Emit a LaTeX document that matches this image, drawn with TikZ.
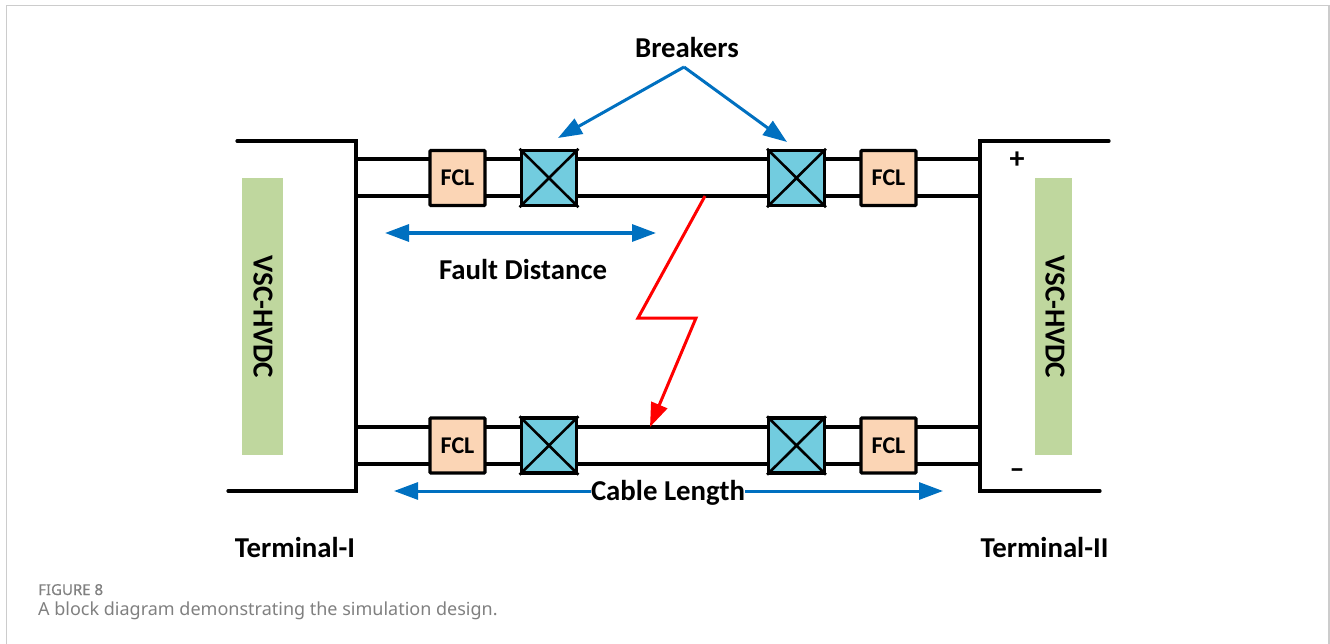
\documentclass[tikz,border=0pt]{standalone}
\usepackage{fontspec}
\setmainfont{Carlito}
\newfontfamily\capfont{Noto Sans}
\newfontfamily\capboldfont[FakeBold=0.5]{Noto Sans}
\usetikzlibrary{arrows.meta}
\definecolor{bluearrow}{HTML}{0070C0}
\definecolor{fclfill}{HTML}{FBD5B5}
\definecolor{brkfill}{HTML}{72CCDF}
\definecolor{vscfill}{HTML}{BFD79E}
\definecolor{framegrey}{HTML}{CCCCCC}
\definecolor{capgrey}{HTML}{808080}
\tikzset{
  x=1pt,y=-1pt,
  wire/.style={draw=black,line width=3.2pt},
  bus/.style={draw=black,line width=3.2pt,line join=miter,line cap=round},
  fcl/.style={draw=black,line width=3.2pt,fill=fclfill,minimum width=55pt,minimum height=55pt,inner sep=0pt,font=\bfseries\fontsize{24}{26}\selectfont,rounded corners=0.8pt},
  brk/.style={draw=black,line width=3.4pt,fill=brkfill,minimum width=55.5pt,minimum height=55pt,inner sep=0pt},
  vsc/.style={fill=vscfill,inner sep=0pt},
  lbl/.style={font=\bfseries\fontsize{28.8}{30}\selectfont,inner sep=0pt},
  vlabel/.style={font=\bfseries\fontsize{29}{30}\selectfont,inner sep=0pt,rotate=-90},
  bluearr/.style={draw=bluearrow,line width=3pt,-{Triangle[length=24pt,width=17pt]}},
  bluearrt/.style={draw=bluearrow,line width=3.2pt,{Triangle[length=24pt,width=17pt]}-{Triangle[length=24pt,width=17pt]}},
  redarr/.style={draw=red,line width=3pt,line join=miter,-{Triangle[length=24pt,width=17pt]}},
  captxt/.style={text=capgrey,inner sep=0pt,anchor=base west}
}
\begin{document}
\begin{tikzpicture}
\useasboundingbox (0,0) rectangle (1330,644);
% panel frame
\draw[framegrey,line width=1.2pt] (6.3,644) -- (6.3,5.5) -- (1329,5.5) -- (1329,644);
% green blocks
\node[vsc,minimum width=41pt,minimum height=277pt] (vscL) at (262.5,316.5) {};
\node[vsc,minimum width=37pt,minimum height=277pt] (vscR) at (1053.5,316.5) {};
\node[vlabel] (vscLt) at (263,317) {VSC-HVDC};
\node[vlabel] (vscRt) at (1055,317) {VSC-HVDC};
% terminals
\coordinate (lt0) at (237,141); \coordinate (lt1) at (356,141);
\coordinate (lb1) at (356,491); \coordinate (lb0) at (228,491);
\coordinate (rt0) at (1109,141); \coordinate (rt1) at (980,141);
\coordinate (rb1) at (980,491); \coordinate (rb0) at (1100,491);
\draw[bus] (lt0) -- (lt1) -- (lb1) -- (lb0);
\draw[bus] (rt0) -- (rt1) -- (rb1) -- (rb0);
% junction points on the terminals
\coordinate (L1) at (356,159); \coordinate (L2) at (356,196);
\coordinate (L3) at (356,427); \coordinate (L4) at (356,464);
\coordinate (R1) at (980,159); \coordinate (R2) at (980,196);
\coordinate (R3) at (980,427); \coordinate (R4) at (980,464);
% wires first
\draw[wire] (L1) -- (R1); \draw[wire] (L2) -- (R2);
\draw[wire] (L3) -- (R3); \draw[wire] (L4) -- (R4);
% devices
\node[fcl] (f1) at (457.5,178) {FCL};
\node[fcl] (f2) at (888.5,178) {FCL};
\node[fcl] (f3) at (457.5,445.5) {FCL};
\node[fcl] (f4) at (888.5,445.5) {FCL};
\foreach \n/\x/\y in {b1/549/178,b2/796.5/178,b3/549/445.5,b4/796.5/445.5}{
  \node[brk] (\n) at (\x,\y) {};
  \draw[black,line width=2.6pt] (\n.north west) -- (\n.south east) (\n.north east) -- (\n.south west);
}
% breakers label
\node[lbl] (brk) at (687,48) {Breakers};
\coordinate (apex) at (684,67);
\coordinate (a1) at (558,138); \coordinate (a2) at (787,142);
\draw[bluearr] (apex) -- (a1);
\draw[bluearr] (apex) -- (a2);
% fault distance
\coordinate (fd1) at (385,233); \coordinate (fd2) at (656,233);
\draw[bluearrt] (fd1) -- (fd2);
\node[lbl] (fd) at (523,270) {Fault Distance};
% cable length
\node[lbl] (cl) at (668,493) {Cable Length};
\coordinate (c1) at (394,491); \coordinate (c2) at (943,491);
\draw[bluearr] (cl.west |- c1) -- (c1);
\draw[bluearr] (cl.east |- c2) -- (c2);
% fault
\coordinate (r0) at (705,196); \coordinate (r1) at (638,318);
\coordinate (r2) at (696,318); \coordinate (r3) at (650,427);
\draw[redarr] (r0) -- (r1) -- (r2) -- (r3);
% terminals text
\node[lbl] (t1) at (295,547) {Terminal-I};
\node[lbl] (t2) at (1044.5,547) {Terminal-II};
\node[font=\bfseries\fontsize{30}{32}\selectfont,inner sep=0pt] (plus) at (1017,160) {+};
\node[font=\bfseries\fontsize{30}{32}\selectfont,inner sep=0pt] (minus) at (1017,474) {–};
% caption
\node[captxt,font=\capboldfont\fontsize{15}{17}\selectfont] (figno) at (38,595) {FIGURE 8};
\node[captxt,font=\capfont\fontsize{18}{20}\selectfont] (capt) at (38,615) {A block diagram demonstrating the simulation design.};
\end{tikzpicture}
\end{document}
